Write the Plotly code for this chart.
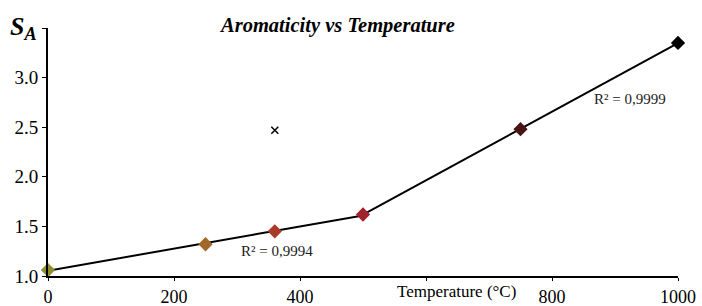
import numpy as np
import plotly.graph_objects as go

temperature = [0, 250, 360, 500, 750, 1000]
aromaticity = [1.06, 1.32, 1.45, 1.62, 2.48, 3.35]
point_colors = ["#8f8f30", "#a0692a", "#a83a2a", "#a0222c", "#4a1414", "#000000"]
outlier_t = [360]
outlier_sa = [2.47]
seg1_idx = [0, 1, 2, 3]
seg2_idx = [3, 4, 5]
r2_labels = ["R² = 0,9994", "R² = 0,9999"]
x_ticks = [0, 200, 400, 600, 800, 1000]
x_ticktext = ["0", "200", "400", "", "800", "1000"]
y_ticks = [1.0, 1.5, 2.0, 2.5, 3.0, 3.5]
y_ticktext = ["1.0", "1.5", "2.0", "2.5", "3.0", ""]

FONT = "Liberation Serif, Times New Roman, DejaVu Serif, serif"
fig = go.Figure()

for idx in (seg1_idx, seg2_idx):
    xs = np.array([temperature[i] for i in idx], dtype=float)
    ys = np.array([aromaticity[i] for i in idx], dtype=float)
    m, b = np.polyfit(xs, ys, 1)
    xl = np.array([xs.min(), xs.max()])
    fig.add_trace(go.Scatter(x=xl, y=m * xl + b, mode="lines",
                             line=dict(color="black", width=2), showlegend=False,
                             hoverinfo="skip"))

fig.add_trace(go.Scatter(x=temperature, y=aromaticity, mode="markers",
                         marker=dict(symbol="diamond", size=11, color=point_colors,
                                     line=dict(width=0)),
                         showlegend=False, cliponaxis=False))
fig.add_trace(go.Scatter(x=outlier_t, y=outlier_sa, mode="markers",
                         marker=dict(symbol="x-thin", size=7,
                                     line=dict(width=1.5, color="black")),
                         showlegend=False))

fig.add_annotation(x=0.5, xref="paper", y=1.0, yref="paper", xshift=-26, yshift=-11,
                   text="<b><i>Aromaticity vs Temperature</i></b>", showarrow=False,
                   xanchor="center", yanchor="bottom",
                   font=dict(family=FONT, size=20.5, color="black"))
fig.add_annotation(x=0.0, xref="paper", y=1.0, yref="paper", xshift=-9, yshift=-18,
                   text="<b><i>S<sub>A</sub></i></b>", showarrow=False,
                   xanchor="right", yanchor="bottom",
                   font=dict(family=FONT, size=26, color="black"))
fig.add_annotation(x=363, y=1.25, text=r2_labels[0], showarrow=False,
                   font=dict(family=FONT, size=15, color="#222"))
fig.add_annotation(x=924, y=2.78, text=r2_labels[1], showarrow=False,
                   font=dict(family=FONT, size=15, color="#222"))
fig.add_annotation(x=648, xref="x", y=0, yref="paper", yshift=-4,
                   text="Temperature (°C)", showarrow=False,
                   xanchor="center", yanchor="top",
                   font=dict(family=FONT, size=17, color="black"))

fig.update_xaxes(range=[0, 1000], tickvals=x_ticks, ticktext=x_ticktext,
                 showgrid=False, zeroline=False, showline=True, automargin=False,
                 linecolor="black", linewidth=2, ticks="outside", ticklen=3,
                 tickcolor="black", tickfont=dict(family=FONT, size=18, color="black"))
fig.update_yaxes(range=[1.0, 3.5], tickvals=y_ticks, ticktext=y_ticktext,
                 showgrid=False, zeroline=False, showline=True, automargin=False,
                 linecolor="black", linewidth=2, ticks="outside", ticklen=4,
                 tickcolor="black", tickfont=dict(family=FONT, size=19, color="black"))

fig.update_layout(width=702, height=306, margin=dict(l=48, r=24, t=28, b=30),
                  plot_bgcolor="white", paper_bgcolor="white")
fig.write_html("out.html", config={"displayModeBar": False},
               post_script="document.body.style.margin='0';document.body.style.padding='0';document.body.style.overflow='hidden';")
